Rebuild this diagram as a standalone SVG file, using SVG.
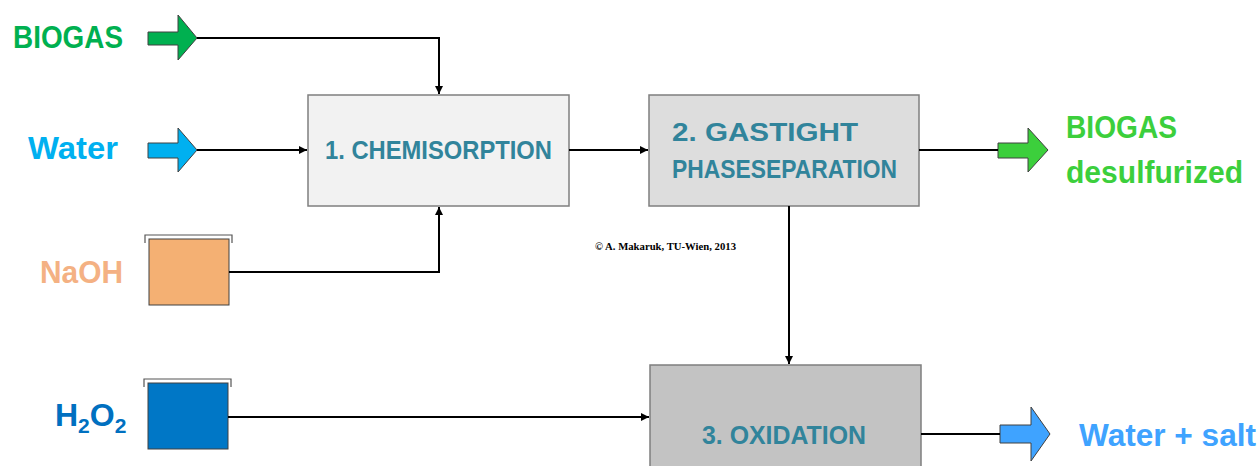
<svg xmlns="http://www.w3.org/2000/svg" width="1259" height="466" viewBox="0 0 1259 466">
<style>
.lbl{font-family:"Liberation Sans",Arial,sans-serif;font-weight:bold;font-size:32px}
.box{stroke:#7F7F7F;stroke-width:1.5}
.bt{font-family:"Liberation Sans",Arial,sans-serif;font-weight:bold;font-size:25px;fill:#31849B}
.ln{fill:none;stroke:#000;stroke-width:2}
.big{stroke:#404040;stroke-width:1}
.tank{stroke:#404040;stroke-width:1}
.brk{fill:none;stroke:#555;stroke-width:1.2}
</style>
<defs>
<marker id="ah" markerWidth="10" markerHeight="10" refX="8" refY="5" orient="auto" markerUnits="userSpaceOnUse">
<path d="M0,1 L8,5 L0,9 Z" fill="#000"/>
</marker>
</defs>

<g id="biogas-in">
<text class="lbl" x="13" y="48" fill="#00B050" textLength="110" lengthAdjust="spacingAndGlyphs">BIOGAS</text>
<path class="big" d="M148,32 H178 V15 L197,38 L178,60 V45 H148 Z" fill="#00B050"/>
</g>

<g id="water-in">
<text class="lbl" x="28" y="159" fill="#00B0F0" textLength="90" lengthAdjust="spacingAndGlyphs">Water</text>
<path class="big" d="M148,143 H178 V128 L197,150 L178,172 V158 H148 Z" fill="#00B0F0"/>
</g>

<g id="naoh">
<text class="lbl" x="40" y="283" fill="#F4B183" textLength="83" lengthAdjust="spacingAndGlyphs">NaOH</text>
<path class="brk" d="M145,243 V235 H232 V243"/>
<rect class="tank" x="149" y="239" width="80" height="66" fill="#F4B073"/>
</g>

<g id="h2o2">
<text class="lbl" x="55" y="426" fill="#0070C0">H<tspan font-size="21" dy="7">2</tspan><tspan dy="-7">O</tspan><tspan font-size="21" dy="7">2</tspan></text>
<path class="brk" d="M144,387 V379 H231 V387"/>
<rect class="tank" x="148" y="383" width="80" height="66" fill="#0077C6"/>
</g>

<g id="box1">
<rect class="box" x="308" y="95" width="261" height="111" fill="#F2F2F2"/>
<text class="bt" x="325" y="159" textLength="227" lengthAdjust="spacingAndGlyphs">1. CHEMISORPTION</text>
</g>

<g id="box2">
<rect class="box" x="649" y="95" width="270" height="111" fill="#DDDDDD"/>
<text class="bt" x="672" y="141" textLength="186" lengthAdjust="spacingAndGlyphs">2. GASTIGHT</text>
<text class="bt" x="672" y="178" textLength="225" lengthAdjust="spacingAndGlyphs">PHASESEPARATION</text>
</g>

<g id="box3">
<rect class="box" x="650" y="365" width="271" height="110" fill="#C3C3C3"/>
<text class="bt" x="702" y="444" textLength="164" lengthAdjust="spacingAndGlyphs">3. OXIDATION</text>
</g>

<g id="biogas-out">
<path class="big" d="M998,143 H1028 V128 L1048,150 L1028,172 V158 H998 Z" fill="#3CCF3C"/>
<text class="lbl" x="1066" y="138" fill="#3CCF3C" textLength="111" lengthAdjust="spacingAndGlyphs">BIOGAS</text>
<text class="lbl" x="1066" y="183" fill="#3CCF3C" textLength="177" lengthAdjust="spacingAndGlyphs">desulfurized</text>
</g>

<g id="water-salt-out">
<path class="big" d="M1000,425 H1031 V407 L1050,434 L1031,461 V443 H1000 Z" fill="#3FA3FF"/>
<text class="lbl" x="1079" y="446" fill="#3FA3FF" textLength="177" lengthAdjust="spacingAndGlyphs">Water + salt</text>
</g>

<g id="copyright">
<text x="595" y="250" font-family="'Liberation Serif','Times New Roman',serif" font-weight="bold" font-size="10.5" fill="#000" textLength="141" lengthAdjust="spacingAndGlyphs">© A. Makaruk, TU-Wien, 2013</text>
</g>

<g id="connectors">
<path class="ln" d="M197,38 H439 V94" marker-end="url(#ah)"/>
<path class="ln" d="M197,150 H307" marker-end="url(#ah)"/>
<path class="ln" d="M229,272 H439 V207" marker-end="url(#ah)"/>
<path class="ln" d="M569,150 H648" marker-end="url(#ah)"/>
<path class="ln" d="M919,150 H998"/>
<path class="ln" d="M789,206 V364" marker-end="url(#ah)"/>
<path class="ln" d="M228,417 H649" marker-end="url(#ah)"/>
<path class="ln" d="M921,434 H1000"/>
</g>
</svg>
